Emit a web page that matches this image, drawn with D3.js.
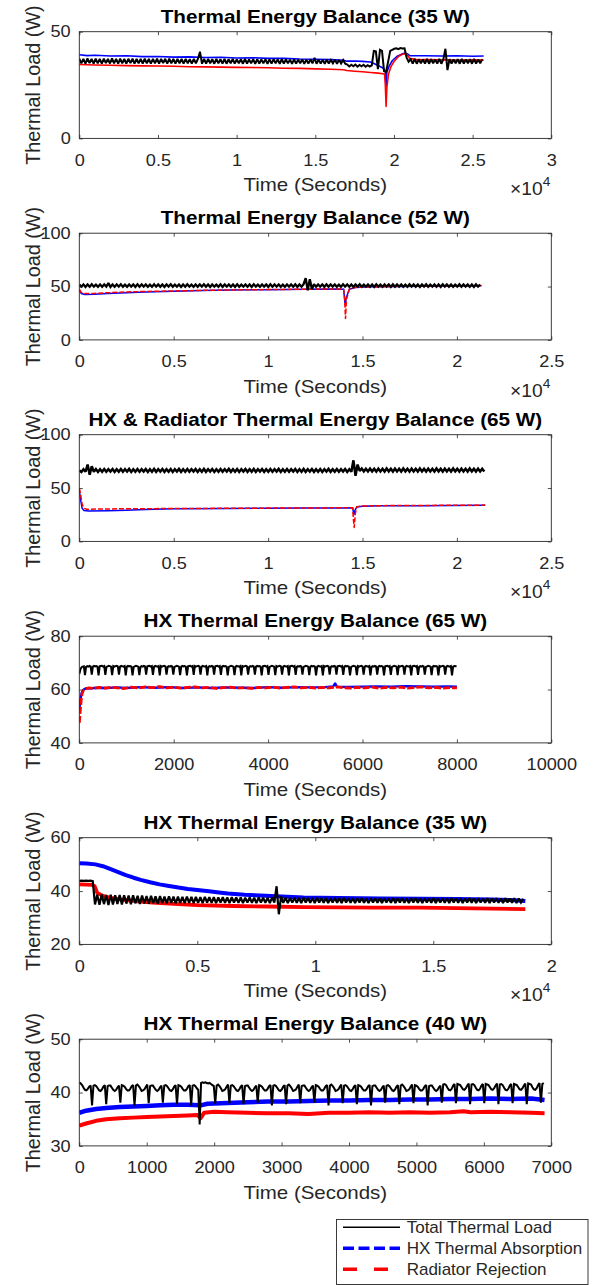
<!DOCTYPE html>
<html><head><meta charset="utf-8">
<script src="https://cdn.jsdelivr.net/npm/d3@7"></script>
<style>body{margin:0;background:#fff}svg{display:block}text{font-family:"Liberation Sans",Arial,Helvetica,sans-serif}</style>
</head><body><svg id="c" width="597" height="1285"></svg>
<script>
// ---------------- DATA ----------------
const legendLabels = ["Total Thermal Load","HX Thermal Absorption","Radiator Rejection"];
const titles = ["Thermal Energy Balance (35 W)","Thermal Energy Balance (52 W)","HX & Radiator Thermal Energy Balance (65 W)","HX Thermal Energy Balance (65 W)","HX Thermal Energy Balance (35 W)","HX Thermal Energy Balance (40 W)"];
const xTicks1 = [0,5000,10000,15000,20000,25000,30000];
const xTicks2 = [0,5000,10000,15000,20000,25000];
const xTicks4 = [0,2000,4000,6000,8000,10000];
const xTicks5 = [0,5000,10000,15000,20000];
const xTicks6 = [0,1000,2000,3000,4000,5000,6000,7000];
const yTicks1 = [0,50], yTicks2 = [0,50,100], yTicks3 = [0,50,100], yTicks4 = [40,60,80], yTicks5 = [20,40,60], yTicks6 = [30,40,50];

// Total thermal load, sampled every N seconds
const p1BlackStep = 130;
const p1Black = [37.4,35.2,37.3,35.0,37.5,35.3,37.2,35.1,37.4,35.2,
37.3,35.0,37.4,35.3,37.2,35.1,37.5,35.2,37.3,35.0,
37.4,35.2,37.2,35.1,37.3,35.3,37.4,35.0,37.2,35.2,
37.3,35.1,37.4,35.2,37.2,35.0,37.3,35.2,37.4,35.1,
37.2,35.3,37.3,35.0,37.4,35.2,37.2,35.1,37.3,35.2,
37.2,35.0,37.3,35.2,37.1,35.1,37.3,35.2,37.2,40.6,
35.0,37.2,35.1,37.3,35.2,37.1,35.0,37.2,35.2,37.1,
35.1,37.2,35.0,37.1,35.2,37.2,35.1,37.0,35.2,37.1,
35.0,37.2,35.1,37.0,35.2,37.1,35.0,37.1,35.1,37.0,
35.2,37.1,35.0,37.0,35.1,37.1,35.2,37.0,35.0,37.1,
35.1,37.0,35.2,36.9,35.0,37.0,35.1,36.9,35.2,37.0,
35.0,36.9,35.1,37.0,35.2,37.8,35.0,36.9,35.1,36.8,
35.0,36.9,35.1,36.8,35.2,36.9,35.0,36.8,35.1,36.7,
35.0,
34.6,33.7,34.5,33.8,34.6,33.6,34.4,33.8,34.5,33.6,34.3,33.7,34.2,
41.0,40.8,32.5,41.5,41.0,31.5,31.2,36.0,41.0,41.5,42.0,42.2,41.8,42.3,42.1,42.2,38.0,36.0,
37.1,35.1,37.2,35.0,37.1,35.2,37.0,35.1,37.2,35.0,37.1,35.2,37.0,35.1,37.2,35.0,37.1,
42.0,32.0,
37.1,35.1,37.0,35.2,37.1,35.0,37.2,35.1,37.0,35.2,37.1,35.0,37.2,35.1,37.0,35.2,37.1];
const p1Blue = [[0,39.2],[500,38.8],[1000,39.0],[2000,38.6],[3000,38.7],[4000,38.3],[5000,38.4],[6000,38.1],[7000,38.2],[8000,37.9],[9000,38.0],[10000,37.7],[11000,37.8],[12000,37.5],[13000,37.5],[14000,37.2],[15000,37.1],[16000,36.9],[16800,36.6],[17000,36.2],[17500,36.3],[18000,36.1],[18500,35.8],[18900,34.5],[19300,33.0],[19450,31.5],[19500,24],[19550,31],[19700,34],[19900,36.5],[20200,38.5],[20500,39.5],[20700,40.0],[20900,39.4],[21000,38.8],[22000,38.7],[23000,38.6],[24000,38.7],[25000,38.5],[25700,38.6]];
const p1Red = [[0,34.6],[1000,34.4],[2000,34.3],[3000,34.1],[4000,34.0],[5000,33.9],[6000,33.8],[7000,33.6],[8000,33.5],[9000,33.4],[10000,33.3],[11000,33.2],[12000,33.1],[13000,32.9],[14000,32.8],[15000,32.6],[16000,32.4],[16800,32.2],[17000,31.8],[17500,31.5],[18000,31.2],[18500,30.9],[19000,30.6],[19400,30.2],[19450,25],[19500,15],[19550,24],[19650,30],[19800,33.5],[20000,36],[20300,38.5],[20600,39.6],[20800,39.5],[21000,37.5],[21500,36.8],[22000,36.9],[23000,36.8],[24000,36.7],[25000,36.8],[25700,36.7]];

const p2BlackStep = 110;
const p2Black = [51.8,49.9,52.0,49.7,51.9,49.8,52.1,49.9,51.8,49.7,
52.0,49.8,51.9,49.9,53.2,49.7,52.0,49.8,51.9,49.9,
52.1,49.7,51.8,49.8,52.0,49.9,51.9,49.7,52.1,49.8,
51.9,49.9,52.0,49.8,51.8,49.7,52.1,49.9,51.9,49.8,
52.0,49.7,51.9,49.9,52.1,49.8,51.8,49.9,52.0,49.7,
51.9,49.8,52.1,49.9,51.8,49.7,52.0,49.8,51.9,49.9,
52.1,49.8,51.9,49.7,52.0,49.9,51.8,49.8,52.1,49.7,
51.9,49.9,52.0,49.8,51.9,49.7,52.1,49.8,51.8,49.9,
52.0,49.8,51.9,49.7,52.1,49.9,51.8,49.8,52.0,49.9,
51.9,49.7,52.1,49.8,51.9,49.9,52.0,49.8,51.8,49.7,
52.0,49.9,51.9,49.8,52.1,49.7,51.9,49.8,
52.2,57.8,46.5,56.8,47.5,52.3,
49.8,52.0,49.9,51.9,49.7,52.1,
49.8,51.9,49.9,52.0,49.8,51.8,49.7,52.1,49.9,51.9,
49.8,52.0,49.7,51.9,49.9,52.1,49.8,51.8,49.9,52.0,
49.8,51.9,49.7,52.1,49.9,51.8,49.8,52.0,49.9,51.9,
49.7,52.1,49.8,51.9,49.9,52.0,49.8,51.8,49.7,52.1,
49.9,51.9,49.8,52.0,49.7,51.9,49.9,52.1,49.8,51.8,
49.9,52.0,49.8,51.9,49.7,52.1,49.9,51.9,49.8,52.0,
49.7,51.8,49.9,52.1,49.8,51.9,49.9,52.0,49.8,51.9,
49.7,52.1,49.9,52.0];
const p2Blue = [[0,46.5],[100,43.5],[300,42.5],[800,42.7],[1500,43.4],[2500,44.3],[3500,45.0],[5000,45.7],[6500,46.3],[8000,46.7],[10000,47.1],[12000,47.4],[13500,47.7],[14000,47.5],[14080,33],[14150,40],[14300,47.4],[14600,49.0],[15500,49.7],[17000,50.1],[19000,50.5],[21300,50.8]];
const p2Red = [[0,47.5],[100,44.5],[300,43.4],[800,43.6],[1500,44.2],[2500,44.9],[3500,45.4],[5000,45.9],[6500,46.4],[8000,46.8],[10000,47.2],[12000,47.5],[13500,47.8],[14000,47.6],[14050,40],[14100,20],[14150,38],[14300,47.5],[14600,49.2],[15500,49.8],[17000,50.2],[19000,50.6],[21300,50.9]];

const p3BlackStep = 110;
const p3Black = [66.5,65.0,67.6,65.3,72.0,62.5,70.5,65.2,67.8,65.1,
67.7,65.3,67.8,65.2,67.6,65.4,67.8,65.1,67.7,65.3,
67.8,65.2,67.6,65.4,67.9,65.1,67.7,65.3,67.8,65.2,
67.6,65.4,67.8,65.1,67.7,65.3,67.9,65.2,67.6,65.4,
67.8,65.2,67.7,65.3,67.8,65.1,67.6,65.4,67.9,65.2,
67.7,65.3,67.8,65.2,67.6,65.4,67.8,65.1,67.7,65.3,
67.9,65.2,67.6,65.4,67.8,65.1,67.7,65.3,67.8,65.2,
67.6,65.4,67.9,65.2,67.7,65.3,67.8,65.1,67.6,65.4,
67.8,65.2,67.7,65.3,67.9,65.1,67.6,65.4,67.8,65.2,
67.7,65.3,67.8,65.2,67.6,65.4,67.9,65.1,67.7,65.3,
67.8,65.2,67.6,65.4,67.8,65.1,67.7,65.3,67.9,65.2,
67.6,65.4,67.8,65.2,67.7,65.3,67.8,65.1,67.6,65.4,
67.9,65.2,67.7,65.3,67.8,65.2,67.6,65.4,67.8,65.1,
67.7,65.3,76.0,61.5,72.0,66.0,68.3,65.6,68.1,65.5,
68.2,65.6,68.0,65.4,68.2,65.6,68.1,65.5,68.3,65.6,
68.0,65.4,68.2,65.6,68.1,65.5,68.3,65.6,68.0,65.4,
68.2,65.6,68.1,65.5,68.3,65.6,68.0,65.4,68.2,65.6,
68.1,65.5,68.3,65.6,68.0,65.4,68.2,65.6,68.1,65.5,
68.3,65.6,68.0,65.4,68.2,65.6,68.1,65.5,68.3,65.6,
68.0,65.4,68.2,65.6,68.1,65.5];
const p3Blue = [[0,48],[60,40],[150,31],[250,29],[500,28.6],[1500,28.8],[2500,29.3],[3500,30.0],[5000,30.5],[8000,30.9],[10000,31.1],[12000,31.3],[14000,31.4],[14480,31.5],[14540,25],[14600,29],[14700,32.3],[15000,33.0],[16000,33.3],[18000,33.5],[21500,33.9]];
const p3Red = [[0,50],[60,45],[150,35],[250,31],[400,30.2],[1000,30.3],[2000,30.5],[4000,30.7],[6000,30.9],[8000,31.0],[10000,31.2],[12000,31.3],[14000,31.5],[14480,31.6],[14520,20],[14560,13],[14620,26],[14700,32.5],[15000,33.2],[16000,33.5],[18000,33.7],[21500,34.0]];

const p4BlackStep = 24;
const p4Black = [65.8,67.6,68.4,68.6,68.7,65.4,
68.5,68.8,68.6,68.9,68.7,65.6, 68.6,68.9,68.7,68.8,68.6,65.3, 68.7,68.8,68.9,68.6,68.8,65.5,
68.5,68.7,68.9,68.8,68.6,65.4, 68.8,68.6,68.8,68.9,68.7,65.6, 68.6,68.9,68.7,68.6,68.8,65.3,
68.6,68.9,68.7,68.8,68.6,65.3, 68.5,68.7,68.9,68.8,68.6,65.4, 68.5,68.8,68.6,68.9,68.7,65.6,
68.7,68.8,68.9,68.6,68.8,65.5, 68.6,68.9,68.7,68.6,68.8,65.3, 68.8,68.6,68.8,68.9,68.7,65.6,
68.5,68.8,68.6,68.9,68.7,65.6, 68.5,68.7,68.9,68.8,68.6,65.4, 68.6,68.9,68.7,68.8,68.6,65.3,
68.7,68.8,68.9,68.6,68.8,65.5, 68.8,68.6,68.8,68.9,68.7,65.6, 68.6,68.9,68.7,68.6,68.8,65.3,
68.5,68.8,68.6,68.9,68.7,65.6, 68.7,68.8,68.9,68.6,68.8,65.5, 68.6,68.9,68.7,68.8,68.6,65.3,
68.5,68.7,68.9,68.8,68.6,65.4, 68.6,68.9,68.7,68.6,68.8,65.3, 68.8,68.6,68.8,68.9,68.7,65.6,
68.5,68.8,68.6,68.9,68.7,65.6, 68.6,68.9,68.7,68.8,68.6,65.3, 68.7,68.8,68.9,68.6,68.8,65.5,
68.5,68.7,68.9,68.8,68.6,65.4, 68.8,68.6,68.8,68.9,68.7,65.6, 68.6,68.9,68.7,68.6,68.8,65.3,
68.7,68.8,68.9,68.6,68.8,65.5, 68.5,68.8,68.6,68.9,68.7,65.6, 68.5,68.7,68.9,68.8,68.6,65.4,
68.6,68.9,68.7,68.8,68.6,65.3, 68.6,68.9,68.7,68.6,68.8,65.3, 68.8,68.6,68.8,68.9,68.7,65.6,
68.5,68.8,68.6,68.9,68.7,65.6, 68.7,68.8,68.9,68.6,68.8,65.5, 68.6,68.9,68.7,68.8,68.6,65.3,
68.5,68.7,68.9,68.8,68.6,65.4, 68.8,68.6,68.8,68.9,68.7,65.6, 68.6,68.9,68.7,68.6,68.8,65.3,
68.5,68.8,68.6,68.9,68.7,65.6, 68.6,68.9,68.7,68.8,68.6,65.3, 68.7,68.8,68.9,68.6,68.8,65.5,
68.5,68.7,68.9,68.8,68.6,65.4, 68.8,68.6,68.8,68.9,68.7,65.6, 68.6,68.9,68.7,68.6,68.8,65.3,
68.7,68.8,68.9,68.6,68.8,65.5, 68.5,68.8,68.6,68.9,68.7,65.6, 68.5,68.7,68.9,68.8,68.6,65.4,
68.6,68.9,68.7,68.8,68.6,65.3, 68.8,68.6,68.8,68.9,68.7,65.6, 68.6,68.9,68.7,68.6,68.8,65.3,
68.6,68.8,68.7,68.8];
const p4Blue = [[0,52.5],[25,56.5],[50,58.8],[80,59.8],[130,60.4],[250,60.5],[400,60.7],[600,60.6],[800,60.8],[1000,60.6],[1300,60.9],[1600,60.7],[1900,60.9],[2200,60.6],[2500,60.8],[2800,60.6],[3100,60.8],[3400,60.7],[3700,60.6],[4000,60.9],[4300,60.7],[4600,60.9],[4900,60.8],[5200,60.9],[5380,61.2],[5420,62.3],[5460,61.0],[5700,61.0],[6000,61.1],[6300,61.2],[6600,61.1],[6900,61.3],[7200,61.2],[7500,61.1],[7800,61.2],[8000,61.1]];
const p4Red = [[0,47.5],[20,52],[40,56],[60,58.5],[90,59.8],[130,60.3],[200,60.6],[300,60.4],[420,60.8],[550,60.5],[680,60.9],[800,60.6],[950,60.4],[1100,60.9],[1250,60.6],[1400,61.0],[1550,60.7],[1700,61.1],[1850,60.6],[2000,60.9],[2150,60.5],[2300,60.8],[2450,61.0],[2600,60.6],[2750,60.8],[2900,60.4],[3050,60.7],[3200,60.9],[3350,60.5],[3500,60.7],[3650,60.4],[3800,60.8],[3950,60.6],[4100,60.9],[4250,60.5],[4400,60.8],[4550,61.0],[4700,60.6],[4850,60.9],[5000,60.5],[5150,60.8],[5300,60.6],[5450,61.0],[5600,60.7],[5750,60.5],[5900,60.8],[6050,60.6],[6200,60.9],[6350,60.5],[6500,60.8],[6650,60.6],[6800,60.9],[6950,60.5],[7100,60.7],[7250,61.0],[7400,60.6],[7550,60.8],[7700,60.5],[7850,60.7],[8000,60.6]];

const p5BlackStep = 95;
const p5Black = [43.8,43.9,43.8,43.9,43.8,43.9,43.7,35.0,38.6,34.9,
38.7,35.1,38.5,34.8,38.6,35.0,38.4,35.2,38.5,35.0,
38.4,35.3,38.3,35.1,38.4,35.4,38.2,35.2,38.3,35.4,
38.1,35.3,38.2,35.5,38.0,35.3,38.1,35.5,37.9,35.4,
38.0,35.6,37.9,35.4,37.9,35.6,37.8,35.5,37.9,35.6,
37.8,35.5,37.8,35.6,37.7,35.5,37.8,35.7,37.7,35.6,
37.7,35.5,37.6,35.7,37.7,35.6,37.6,35.5,37.7,35.7,
37.6,35.6,37.6,35.5,37.5,35.7,37.6,35.6,37.5,35.5,
37.6,35.7,37.5,35.6,37.5,35.5,37.6,35.7,41.8,31.3,
38.0,35.6,37.5,35.5,37.4,35.7,37.5,35.6,37.4,35.5,
37.5,35.7,37.4,35.6,37.4,35.5,37.5,35.7,37.3,35.6,
37.4,35.5,37.3,35.7,37.4,35.6,37.3,35.5,37.4,35.7,
37.3,35.6,37.3,35.5,37.2,35.7,37.3,35.6,37.2,35.5,
37.3,35.7,37.2,35.6,37.2,35.5,37.3,35.7,37.2,35.6,
37.3,35.5,37.2,35.7,37.3,35.6,37.2,35.5,37.3,35.7,
37.3,35.6,37.2,35.5,37.3,35.7,37.2,35.6,37.3,35.5,
37.2,35.7,37.3,35.6,37.2,35.5,37.3,35.7,37.2,35.6,
37.3,35.5,37.2,35.7,37.3,35.6,37.2,35.5,37.3,35.7,
37.2,35.6,37.3,35.5,37.2,35.7,37.3,35.6,37.2,35.5,
37.3,35.7,37.2,35.6,37.3,35.5,37.2,35.7,37.1];
const p5Blue = [[0,50.4],[300,50.3],[680,50.0],[1000,49.3],[1300,48.3],[1650,47.1],[1970,46.0],[2300,45.0],[2600,44.2],[3000,43.3],[3400,42.5],[3800,41.9],[4200,41.3],[4600,40.8],[5000,40.4],[5500,39.9],[6000,39.4],[6300,39.1],[7000,38.6],[7900,38.2],[8800,37.9],[9500,37.6],[11000,37.4],[12800,37.2],[14500,37.1],[16000,37.0],[17500,36.8],[18300,36.6],[18900,36.3]];
const p5Red = [[0,42.5],[300,42.4],[550,42.3],[650,41.8],[760,39.3],[1000,38.2],[1400,37.3],[2000,36.6],[2600,36.0],[3100,35.7],[4000,35.2],[5000,34.7],[6500,34.4],[8000,34.2],[9500,34.0],[11000,33.9],[12500,33.8],[14400,33.8],[16000,33.6],[17500,33.4],[18900,33.2]];

const p6BlackStep = 21;
const p6Black = [41.9,41.7,41.4,40.9,40.5,40.4,40.7,41.1,41.3,37.6,
41.3,41.4,41.2,40.8,40.4,40.3,40.6,41.1,41.4,37.8,
41.2,41.3,41.3,40.9,40.5,40.3,40.5,41.0,41.3,38.1,
41.4,41.3,41.1,40.7,40.4,40.4,40.7,41.2,41.4,37.6,
41.3,41.5,41.2,40.8,40.3,40.4,40.6,41.1,41.5,38.0,
41.2,41.3,41.3,40.9,40.5,40.3,40.5,41.0,41.3,38.1,
41.3,41.4,41.2,40.8,40.4,40.3,40.6,41.1,41.4,37.8,
41.4,41.3,41.1,40.7,40.4,40.4,40.7,41.2,41.4,37.6,
41.3,41.4,41.2,40.8,40.5,34.0,
41.8,41.9,41.8,41.9,41.8,41.7,41.8,41.6,41.4,41.2,37.9,
41.3,41.5,41.2,40.8,40.3,40.4,40.6,41.1,41.5,38.0,
41.3,41.4,41.2,40.8,40.4,40.3,40.6,41.1,41.4,37.8,
41.2,41.3,41.3,40.9,40.5,40.3,40.5,41.0,41.3,38.1,
41.4,41.3,41.1,40.7,40.4,40.4,40.7,41.2,41.4,37.6,
41.3,41.4,41.2,40.8,40.4,40.3,40.6,41.1,41.4,37.8,
41.3,41.5,41.2,40.8,40.3,40.4,40.6,41.1,41.5,38.0,
41.2,41.3,41.3,40.9,40.5,40.3,40.5,41.0,41.3,38.1,
41.4,41.3,41.1,40.7,40.4,40.4,40.7,41.2,41.4,37.6,
41.3,41.5,41.2,40.8,40.3,40.4,40.6,41.1,41.5,38.0,
41.3,41.4,41.2,40.8,40.4,40.3,40.6,41.1,41.4,37.8,
41.4,41.3,41.1,40.7,40.4,40.4,40.7,41.2,41.4,37.6,
41.2,41.3,41.3,40.9,40.5,40.3,40.5,41.0,41.3,38.1,
41.3,41.4,41.2,40.8,40.4,40.3,40.6,41.1,41.4,37.8,
41.3,41.5,41.2,40.8,40.3,40.4,40.6,41.1,41.5,38.0,
41.4,41.3,41.1,40.7,40.4,40.4,40.7,41.2,41.4,37.6,
41.2,41.3,41.3,40.9,40.5,40.3,40.5,41.0,41.3,38.1,
41.5,41.6,41.4,40.9,40.5,40.4,40.7,41.3,41.6,38.0,
41.6,41.5,41.4,41.0,40.6,40.5,40.8,41.3,41.7,37.8,
41.5,41.6,41.4,40.9,40.5,40.4,40.7,41.3,41.6,38.0,
41.6,41.5,41.4,41.0,40.6,40.5,40.8,41.3,41.7,37.8,
41.5,41.6,41.4,40.9,40.5,40.4,40.7,41.3,41.6,38.0,
41.6,41.5,41.4,41.0,40.6,40.5,40.8,41.3,41.7,37.8,
41.7,41.6,41.5,41.0,40.6,40.5,40.8,41.4,41.8,38.1,
41.6,41.8];
const p6Blue = [[0,36.2],[100,36.6],[250,36.9],[400,37.1],[600,37.3],[800,37.4],[1000,37.5],[1200,37.6],[1400,37.7],[1600,37.7],[1800,37.6],[1900,37.9],[2100,38.0],[2300,38.1],[2500,38.2],[2800,38.3],[3100,38.3],[3400,38.4],[3700,38.5],[4000,38.5],[4300,38.6],[4600,38.6],[4900,38.7],[5200,38.7],[5500,38.8],[5800,38.8],[6100,38.9],[6400,38.8],[6700,38.9],[6900,38.6]];
const p6Red = [[0,33.8],[100,34.2],[250,34.7],[400,35.0],[600,35.2],[800,35.3],[1000,35.4],[1200,35.5],[1400,35.6],[1600,35.7],[1750,35.8],[1800,35.2],[1850,36.2],[2000,36.4],[2200,36.3],[2500,36.2],[2800,36.1],[3100,36.1],[3400,36.0],[3700,36.2],[4000,36.2],[4300,36.3],[4600,36.2],[4900,36.3],[5200,36.2],[5500,36.3],[5700,36.5],[5800,36.3],[6100,36.4],[6400,36.3],[6700,36.2],[6900,36.1]];

// ---------------- LAYOUT ----------------
const boxLeft = 79.3, boxW = 472, boxH = 106.7, top0 = 31.7, pitch = 201.5;
const SX = 1.1;           // horizontal stretch of the source figure's text
const axisColor = "#262626";

const panels = [
  {xMax:30000, xt:xTicks1, exp:true,  yd:[0,50],  yt:yTicks1, k:p1Black, ks:p1BlackStep, b:p1Blue, r:p1Red, lw:[2,1.6,1.6], rd:null},
  {xMax:25000, xt:xTicks2, exp:true,  yd:[0,100], yt:yTicks2, k:p2Black, ks:p2BlackStep, b:p2Blue, r:p2Red, lw:[2.3,1.5,1.5], rd:"5,2"},
  {xMax:25000, xt:xTicks2, exp:true,  yd:[0,100], yt:yTicks3, k:p3Black, ks:p3BlackStep, b:p3Blue, r:p3Red, lw:[2.5,1.5,1.5], rd:"5,2"},
  {xMax:10000, xt:xTicks4, exp:false, yd:[40,80], yt:yTicks4, k:p4Black, ks:p4BlackStep, b:p4Blue, r:p4Red, lw:[2,2.4,2.8], rd:"7,2"},
  {xMax:20000, xt:xTicks5, exp:true,  yd:[20,60], yt:yTicks5, k:p5Black, ks:p5BlackStep, b:p5Blue, r:p5Red, lw:[2.2,4,3.8], rd:null},
  {xMax:7000,  xt:xTicks6, exp:false, yd:[30,50], yt:yTicks6, k:p6Black, ks:p6BlackStep, b:p6Blue, r:p6Red, lw:[2,4.5,4], rd:null}
];

const svg = d3.select("#c");

panels.forEach((p, i) => {
  const top = top0 + i * pitch;
  const g = svg.append("g").attr("transform", `translate(${boxLeft},${top})`);
  const x = d3.scaleLinear().domain([0, p.xMax]).range([0, boxW]);
  const y = d3.scaleLinear().domain(p.yd).range([boxH, 0]);
  const clipId = "clip" + i;
  g.append("clipPath").attr("id", clipId).append("rect").attr("width", boxW).attr("height", boxH);
  const line = d3.line().x(d => x(d[0])).y(d => y(d[1]));
  const plot = g.append("g").attr("clip-path", `url(#${clipId})`);
  plot.append("path").datum(p.b).attr("d", line).attr("fill", "none")
    .attr("stroke", "#0000ff").attr("stroke-width", p.lw[1]).attr("stroke-linejoin", "round");
  plot.append("path").datum(p.r).attr("d", line).attr("fill", "none")
    .attr("stroke", "#ff0000").attr("stroke-width", p.lw[2]).attr("stroke-linejoin", "round")
    .attr("stroke-dasharray", p.rd);
  plot.append("path").datum(p.k.map((v, j) => [j * p.ks, v])).attr("d", line).attr("fill", "none")
    .attr("stroke", "#000").attr("stroke-width", p.lw[0]).attr("stroke-linejoin", "miter").attr("stroke-miterlimit", 2);

  const fmt = p.exp ? (v => d3.format("~g")(v / 1e4)) : d3.format("d");
  const style = sel => {
    sel.attr("font-size", null).attr("font-family", null).attr("color", axisColor);
    sel.select(".domain").remove();
    sel.selectAll(".tick line").attr("stroke-width", 0.8);
  };
  const gx = g.append("g").attr("transform", `translate(0,${boxH})`)
    .call(d3.axisBottom(x).tickValues(p.xt).tickSizeInner(-3.5).tickSizeOuter(0).tickPadding(15.5).tickFormat(fmt));
  style(gx);
  gx.selectAll("text").attr("font-size", 16.5).attr("fill", axisColor).attr("transform", `scale(${SX},1)`);
  const gt = g.append("g").call(d3.axisTop(x).tickValues(p.xt).tickSizeInner(-3.5).tickSizeOuter(0).tickFormat(""));
  style(gt);
  const gy = g.append("g")
    .call(d3.axisLeft(y).tickValues(p.yt).tickSizeInner(-3.5).tickSizeOuter(0).tickPadding(8.6 / SX).tickFormat(d3.format("d")));
  style(gy);
  gy.selectAll("text").attr("font-size", 16.5).attr("fill", axisColor).attr("transform", `scale(${SX},1)`);
  const gr = g.append("g").attr("transform", `translate(${boxW},0)`)
    .call(d3.axisRight(y).tickValues(p.yt).tickSizeInner(-3.5).tickSizeOuter(0).tickFormat(""));
  style(gr);

  g.append("rect").attr("width", boxW).attr("height", boxH).attr("fill", "none")
    .attr("stroke", axisColor).attr("stroke-width", 0.9);

  g.append("text").attr("transform", `translate(${boxW / 2},${-9}) scale(1.15,1)`)
    .attr("text-anchor", "middle").attr("font-size", 18).attr("font-weight", "bold").attr("fill", "#000")
    .text(titles[i]);
  g.append("text").attr("transform", `translate(${boxW / 2},${boxH + 53}) scale(1.1,1)`)
    .attr("text-anchor", "middle").attr("font-size", 18.6).attr("fill", axisColor).text("Time (Seconds)");
  g.append("text").attr("transform", `translate(${40 - boxLeft},${boxH / 2}) rotate(-90)`)
    .attr("text-anchor", "middle").attr("font-size", 19.8).attr("fill", axisColor).text("Thermal Load (W)");
  if (p.exp) {
    const t = g.append("text").attr("transform", `translate(${boxW - 1},${boxH + 56.7}) scale(1.1,1)`)
      .attr("text-anchor", "end").attr("fill", axisColor).attr("font-size", 17.5);
    t.append("tspan").text("\u00d710");
    t.append("tspan").attr("font-size", 12.5).attr("dy", -9).text("4");
  }
});

// ---------------- LEGEND ----------------
const lg = svg.append("g");
lg.append("rect").attr("x", 336.5).attr("y", 1219.5).attr("width", 251.5).attr("height", 65)
  .attr("fill", "#fff").attr("stroke", axisColor).attr("stroke-width", 0.9);
const legendStyles = [
  {c:"#000", w:1.5, d:null},
  {c:"#0000ff", w:3.5, d:"11,4.5"},
  {c:"#ff0000", w:3.5, d:"14,17"}
];
const ly = d3.scalePoint().domain(legendLabels).range([1227.3, 1269.3]);
legendLabels.forEach((lab, j) => {
  const yy = ly(lab);
  lg.append("line").attr("x1", 343).attr("x2", 400).attr("y1", yy).attr("y2", yy)
    .attr("stroke", legendStyles[j].c).attr("stroke-width", legendStyles[j].w)
    .attr("stroke-dasharray", legendStyles[j].d);
  lg.append("text").attr("x", 406.7).attr("y", yy + 6).attr("font-size", 17).attr("fill", axisColor).text(lab);
});
</script></body></html>
